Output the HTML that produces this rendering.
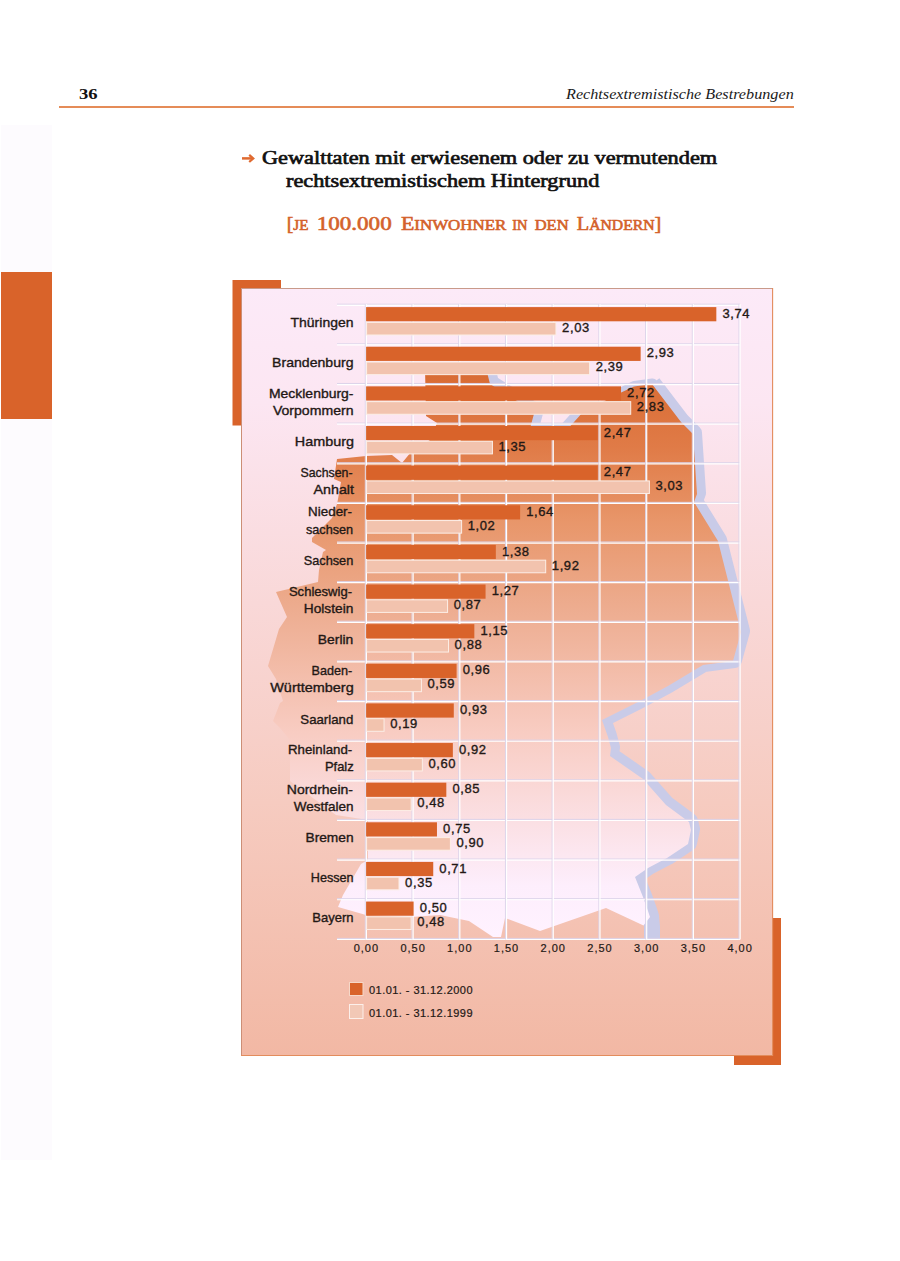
<!DOCTYPE html>
<html><head><meta charset="utf-8"><title>Rechtsextremistische Bestrebungen</title>
<style>
html,body{margin:0;padding:0;background:#fff;}
body{width:900px;height:1261px;position:relative;overflow:hidden;font-family:"Liberation Sans",sans-serif;}
.abs{position:absolute;white-space:nowrap;}
#chart{position:absolute;left:0;top:0;}
#chart text.c{text-anchor:end;}
#chart text.v{letter-spacing:0.6px;}
.strip{position:absolute;left:1px;top:125px;width:51px;height:1035px;background:#FDFBFE;}
.oblock{position:absolute;left:1px;top:272px;width:51px;height:147px;background:#D9632A;}
.pnum{left:79px;top:86px;font:bold 15px "Liberation Serif",serif;color:#111;transform:scaleX(1.24);transform-origin:0 0;}
.rtitle{left:566px;top:85px;font:italic 15.5px "Liberation Serif",serif;color:#1a1a1a;transform:scaleX(1.045);transform-origin:0 0;}
.hline{position:absolute;left:59px;top:106.4px;width:735px;height:1.4px;background:#E58C58;}
.arrow{left:241px;top:147px;font:bold 17px "Liberation Sans",sans-serif;color:#E07030;}
.t1{left:262px;top:148px;font:18px "Liberation Serif",serif;color:#111;-webkit-text-stroke:0.65px #111;transform-origin:0 0;}
.t2{left:286px;top:171px;font:18px "Liberation Serif",serif;color:#111;-webkit-text-stroke:0.65px #111;transform-origin:0 0;}
.sub{left:286.3px;top:213.5px;font:19.5px "Liberation Serif",serif;color:#D4622B;-webkit-text-stroke:0.6px #D4622B;transform-origin:0 0;}
.sc{font-size:15px;}
</style></head>
<body>
<div class="strip"></div>
<div class="oblock"></div>
<div class="abs pnum">36</div>
<div class="abs rtitle">Rechtsextremistische Bestrebungen</div>
<div class="hline"></div>
<svg class="abs" style="left:0;top:0" width="300" height="200"><path d="M242,158.4 H252.5" stroke="#E06A30" stroke-width="2.5" fill="none"/><path d="M249.2,154.8 L253.3,158.4 L249.2,162" stroke="#E06A30" stroke-width="2.2" fill="none" stroke-linejoin="miter"/></svg>
<div class="abs t1" style="transform:scaleX(1.239)">Gewalttaten mit erwiesenem oder zu vermutendem</div>
<div class="abs t2" style="transform:scaleX(1.238)">rechtsextremistischem Hintergrund</div>
<svg id="chart" width="900" height="1261" viewBox="0 0 900 1261">
<defs>
<linearGradient id="bg" gradientUnits="userSpaceOnUse" x1="0" y1="288" x2="0" y2="1056">
 <stop offset="0" stop-color="#FCEAF8"/>
 <stop offset="0.15" stop-color="#FCE6F2"/>
 <stop offset="0.41" stop-color="#F9D8D8"/>
 <stop offset="0.67" stop-color="#F6CBC0"/>
 <stop offset="1" stop-color="#F2B8A4"/>
</linearGradient>
<linearGradient id="mp" gradientUnits="userSpaceOnUse" x1="0" y1="368" x2="0" y2="937">
 <stop offset="0" stop-color="#D86A32"/>
 <stop offset="0.14" stop-color="#E07B47"/>
 <stop offset="0.27" stop-color="#E8966A"/>
 <stop offset="0.42" stop-color="#EDAC8F"/>
 <stop offset="0.64" stop-color="#F8CCC2"/>
 <stop offset="0.91" stop-color="#FDEEFC"/>
 <stop offset="1" stop-color="#FFF2FF"/>
</linearGradient>
</defs>
<rect x="232.5" y="280" width="48.5" height="145.5" fill="#D9632A"/>
<rect x="734" y="918" width="47" height="147" fill="#D9632A"/>
<rect x="241" y="288" width="532" height="768" fill="url(#bg)"/>
<polyline points="487.0,367.0 491.0,383.0 535.5,411.0 530.0,431.0 566.0,431.0 584.0,411.0" fill="none" stroke="#C9CBE8" stroke-width="16" stroke-linejoin="round" stroke-linecap="butt"/>
<polyline points="621.5,393.0 634.5,386.5 652.5,384.0 681.5,422.0" fill="none" stroke="#C9CBE8" stroke-width="11" stroke-linejoin="round" stroke-linecap="butt"/>
<polyline points="653.0,383.0 682.0,421.0 694.0,433.0 698.0,493.0 695.0,501.0 719.0,540.0 739.0,619.0 742.0,631.0 734.0,660.0 704.0,664.0 669.0,685.0 643.0,699.0 603.0,719.0 609.0,736.0 612.0,747.0 611.0,755.0 644.0,778.0 667.0,804.0 690.0,821.0 692.0,829.0 689.0,843.0 668.0,857.0 649.0,867.0 636.0,876.0 644.0,896.0 649.0,910.0 651.0,916.0 652.0,927.0 652.0,939.0" fill="none" stroke="#C9CBE8" stroke-width="16" stroke-linejoin="round" stroke-linecap="butt"/>
<polygon points="425.0,368.0 486.0,368.0 490.0,384.0 534.5,412.0 529.0,432.0 565.0,432.0 583.0,412.0 620.0,393.0 634.0,386.5 652.0,384.0 681.0,422.0 693.0,434.0 697.0,494.0 694.0,502.0 718.0,541.0 738.0,620.0 741.0,632.0 733.0,661.0 703.0,665.0 668.0,686.0 642.0,700.0 602.0,720.0 608.0,737.0 611.0,748.0 610.0,756.0 643.0,779.0 666.0,805.0 689.0,822.0 691.0,830.0 688.0,844.0 667.0,858.0 648.0,868.0 635.0,877.0 643.0,897.0 648.0,911.0 650.0,917.0 643.5,925.6 606.0,908.0 540.0,931.0 505.0,918.0 501.0,937.0 493.0,937.0 469.0,921.0 440.0,915.0 411.0,917.0 366.0,915.0 338.0,907.0 343.0,895.0 361.0,864.0 368.0,860.0 368.0,820.0 336.0,815.0 290.0,781.0 290.0,740.0 280.0,728.0 273.0,721.0 280.0,703.0 283.0,701.0 276.0,679.0 268.0,666.0 279.0,629.0 287.0,617.0 276.0,592.0 318.0,582.0 319.0,570.0 323.0,552.0 326.0,550.0 312.0,542.0 312.0,538.0 332.0,518.0 337.0,504.0 338.0,499.0 341.0,482.0 334.0,479.0 337.0,459.0 366.0,456.0 392.0,455.0 402.0,463.0 411.0,452.0 430.0,440.0 437.0,423.0 426.0,416.0" fill="url(#mp)"/>
<line x1="337.0" y1="304.20" x2="740.0" y2="304.20" stroke="#DCD4EA" stroke-width="1"/>
<line x1="337.0" y1="305.30" x2="740.0" y2="305.30" stroke="#FFFFFF" stroke-width="1.2"/>
<line x1="337.0" y1="343.83" x2="740.0" y2="343.83" stroke="#DCD4EA" stroke-width="1"/>
<line x1="337.0" y1="344.93" x2="740.0" y2="344.93" stroke="#FFFFFF" stroke-width="1.2"/>
<line x1="337.0" y1="383.46" x2="740.0" y2="383.46" stroke="#DCD4EA" stroke-width="1"/>
<line x1="337.0" y1="384.56" x2="740.0" y2="384.56" stroke="#FFFFFF" stroke-width="1.2"/>
<line x1="337.0" y1="423.09" x2="740.0" y2="423.09" stroke="#DCD4EA" stroke-width="1"/>
<line x1="337.0" y1="424.19" x2="740.0" y2="424.19" stroke="#FFFFFF" stroke-width="1.2"/>
<line x1="337.0" y1="462.72" x2="740.0" y2="462.72" stroke="#DCD4EA" stroke-width="1"/>
<line x1="337.0" y1="463.82" x2="740.0" y2="463.82" stroke="#FFFFFF" stroke-width="1.2"/>
<line x1="337.0" y1="502.35" x2="740.0" y2="502.35" stroke="#DCD4EA" stroke-width="1"/>
<line x1="337.0" y1="503.45" x2="740.0" y2="503.45" stroke="#FFFFFF" stroke-width="1.2"/>
<line x1="337.0" y1="541.98" x2="740.0" y2="541.98" stroke="#DCD4EA" stroke-width="1"/>
<line x1="337.0" y1="543.08" x2="740.0" y2="543.08" stroke="#FFFFFF" stroke-width="1.2"/>
<line x1="337.0" y1="581.61" x2="740.0" y2="581.61" stroke="#DCD4EA" stroke-width="1"/>
<line x1="337.0" y1="582.71" x2="740.0" y2="582.71" stroke="#FFFFFF" stroke-width="1.2"/>
<line x1="337.0" y1="621.24" x2="740.0" y2="621.24" stroke="#DCD4EA" stroke-width="1"/>
<line x1="337.0" y1="622.34" x2="740.0" y2="622.34" stroke="#FFFFFF" stroke-width="1.2"/>
<line x1="337.0" y1="660.87" x2="740.0" y2="660.87" stroke="#DCD4EA" stroke-width="1"/>
<line x1="337.0" y1="661.97" x2="740.0" y2="661.97" stroke="#FFFFFF" stroke-width="1.2"/>
<line x1="337.0" y1="700.50" x2="740.0" y2="700.50" stroke="#DCD4EA" stroke-width="1"/>
<line x1="337.0" y1="701.60" x2="740.0" y2="701.60" stroke="#FFFFFF" stroke-width="1.2"/>
<line x1="337.0" y1="740.13" x2="740.0" y2="740.13" stroke="#DCD4EA" stroke-width="1"/>
<line x1="337.0" y1="741.23" x2="740.0" y2="741.23" stroke="#FFFFFF" stroke-width="1.2"/>
<line x1="337.0" y1="779.76" x2="740.0" y2="779.76" stroke="#DCD4EA" stroke-width="1"/>
<line x1="337.0" y1="780.86" x2="740.0" y2="780.86" stroke="#FFFFFF" stroke-width="1.2"/>
<line x1="337.0" y1="819.39" x2="740.0" y2="819.39" stroke="#DCD4EA" stroke-width="1"/>
<line x1="337.0" y1="820.49" x2="740.0" y2="820.49" stroke="#FFFFFF" stroke-width="1.2"/>
<line x1="337.0" y1="859.02" x2="740.0" y2="859.02" stroke="#DCD4EA" stroke-width="1"/>
<line x1="337.0" y1="860.12" x2="740.0" y2="860.12" stroke="#FFFFFF" stroke-width="1.2"/>
<line x1="337.0" y1="898.65" x2="740.0" y2="898.65" stroke="#DCD4EA" stroke-width="1"/>
<line x1="337.0" y1="899.75" x2="740.0" y2="899.75" stroke="#FFFFFF" stroke-width="1.2"/>
<line x1="337.0" y1="938.40" x2="740.0" y2="938.40" stroke="#DCD4EA" stroke-width="1"/>
<line x1="337.0" y1="939.50" x2="740.0" y2="939.50" stroke="#FFFFFF" stroke-width="1.2"/>
<line x1="365.30" y1="304.2" x2="365.30" y2="939.4" stroke="#DCD4EA" stroke-width="1"/>
<line x1="366.40" y1="304.2" x2="366.40" y2="939.4" stroke="#FFFFFF" stroke-width="1.2"/>
<line x1="412.01" y1="304.2" x2="412.01" y2="939.4" stroke="#DCD4EA" stroke-width="1"/>
<line x1="413.12" y1="304.2" x2="413.12" y2="939.4" stroke="#FFFFFF" stroke-width="1.2"/>
<line x1="458.73" y1="304.2" x2="458.73" y2="939.4" stroke="#DCD4EA" stroke-width="1"/>
<line x1="459.83" y1="304.2" x2="459.83" y2="939.4" stroke="#FFFFFF" stroke-width="1.2"/>
<line x1="505.45" y1="304.2" x2="505.45" y2="939.4" stroke="#DCD4EA" stroke-width="1"/>
<line x1="506.55" y1="304.2" x2="506.55" y2="939.4" stroke="#FFFFFF" stroke-width="1.2"/>
<line x1="552.16" y1="304.2" x2="552.16" y2="939.4" stroke="#DCD4EA" stroke-width="1"/>
<line x1="553.26" y1="304.2" x2="553.26" y2="939.4" stroke="#FFFFFF" stroke-width="1.2"/>
<line x1="598.88" y1="304.2" x2="598.88" y2="939.4" stroke="#DCD4EA" stroke-width="1"/>
<line x1="599.98" y1="304.2" x2="599.98" y2="939.4" stroke="#FFFFFF" stroke-width="1.2"/>
<line x1="645.59" y1="304.2" x2="645.59" y2="939.4" stroke="#DCD4EA" stroke-width="1"/>
<line x1="646.69" y1="304.2" x2="646.69" y2="939.4" stroke="#FFFFFF" stroke-width="1.2"/>
<line x1="692.31" y1="304.2" x2="692.31" y2="939.4" stroke="#DCD4EA" stroke-width="1"/>
<line x1="693.41" y1="304.2" x2="693.41" y2="939.4" stroke="#FFFFFF" stroke-width="1.2"/>
<line x1="739.02" y1="304.2" x2="739.02" y2="939.4" stroke="#DCD4EA" stroke-width="1"/>
<line x1="740.12" y1="304.2" x2="740.12" y2="939.4" stroke="#FFFFFF" stroke-width="1.2"/>
<rect x="366.1" y="307.10" width="350.23" height="14.2" fill="#D9632A"/>
<rect x="366.6" y="322.40" width="189.36" height="12.6" fill="#F2C3AE" stroke="#FCEEE6" stroke-width="1"/>
<rect x="366.1" y="346.73" width="274.55" height="14.2" fill="#D9632A"/>
<rect x="366.6" y="362.03" width="223.00" height="12.6" fill="#F2C3AE" stroke="#FCEEE6" stroke-width="1"/>
<rect x="366.1" y="386.36" width="254.93" height="14.2" fill="#D9632A"/>
<rect x="366.6" y="401.66" width="264.11" height="12.6" fill="#F2C3AE" stroke="#FCEEE6" stroke-width="1"/>
<rect x="366.1" y="425.99" width="231.57" height="14.2" fill="#D9632A"/>
<rect x="366.6" y="441.29" width="125.83" height="12.6" fill="#F2C3AE" stroke="#FCEEE6" stroke-width="1"/>
<rect x="366.1" y="465.62" width="231.57" height="14.2" fill="#D9632A"/>
<rect x="366.6" y="480.92" width="282.79" height="12.6" fill="#F2C3AE" stroke="#FCEEE6" stroke-width="1"/>
<rect x="366.1" y="505.25" width="154.03" height="14.2" fill="#D9632A"/>
<rect x="366.6" y="520.55" width="95.00" height="12.6" fill="#F2C3AE" stroke="#FCEEE6" stroke-width="1"/>
<rect x="366.1" y="544.88" width="129.73" height="14.2" fill="#D9632A"/>
<rect x="366.6" y="560.18" width="179.09" height="12.6" fill="#F2C3AE" stroke="#FCEEE6" stroke-width="1"/>
<rect x="366.1" y="584.51" width="119.46" height="14.2" fill="#D9632A"/>
<rect x="366.6" y="599.81" width="80.98" height="12.6" fill="#F2C3AE" stroke="#FCEEE6" stroke-width="1"/>
<rect x="366.1" y="624.14" width="108.24" height="14.2" fill="#D9632A"/>
<rect x="366.6" y="639.44" width="81.92" height="12.6" fill="#F2C3AE" stroke="#FCEEE6" stroke-width="1"/>
<rect x="366.1" y="663.77" width="90.49" height="14.2" fill="#D9632A"/>
<rect x="366.6" y="679.07" width="54.82" height="12.6" fill="#F2C3AE" stroke="#FCEEE6" stroke-width="1"/>
<rect x="366.1" y="703.40" width="87.69" height="14.2" fill="#D9632A"/>
<rect x="366.6" y="718.70" width="17.45" height="12.6" fill="#F2C3AE" stroke="#FCEEE6" stroke-width="1"/>
<rect x="366.1" y="743.03" width="86.76" height="14.2" fill="#D9632A"/>
<rect x="366.6" y="758.33" width="55.76" height="12.6" fill="#F2C3AE" stroke="#FCEEE6" stroke-width="1"/>
<rect x="366.1" y="782.66" width="80.22" height="14.2" fill="#D9632A"/>
<rect x="366.6" y="797.96" width="44.55" height="12.6" fill="#F2C3AE" stroke="#FCEEE6" stroke-width="1"/>
<rect x="366.1" y="822.29" width="70.87" height="14.2" fill="#D9632A"/>
<rect x="366.6" y="837.59" width="83.79" height="12.6" fill="#F2C3AE" stroke="#FCEEE6" stroke-width="1"/>
<rect x="366.1" y="861.92" width="67.14" height="14.2" fill="#D9632A"/>
<rect x="366.6" y="877.22" width="32.40" height="12.6" fill="#F2C3AE" stroke="#FCEEE6" stroke-width="1"/>
<rect x="366.1" y="901.55" width="47.52" height="14.2" fill="#D9632A"/>
<rect x="366.6" y="916.85" width="44.55" height="12.6" fill="#F2C3AE" stroke="#FCEEE6" stroke-width="1"/>
<g font-family="Liberation Sans" font-size="13" fill="#231815" stroke="#231815" stroke-width="0.35">
<text class="v" x="722.4" y="317.80">3,74</text>
<text class="v" x="562.1" y="331.80">2,03</text>
<text class="c" transform="translate(353.50,327.20) scale(1.0763,1)">Thüringen</text>
<text class="v" x="646.7" y="357.43">2,93</text>
<text class="v" x="595.7" y="371.43">2,39</text>
<text class="c" transform="translate(353.50,366.83) scale(1.0840,1)">Brandenburg</text>
<text class="v" x="627.1" y="397.06">2,72</text>
<text class="v" x="636.8" y="411.06">2,83</text>
<text class="c" transform="translate(353.50,397.56) scale(1.0747,1)">Mecklenburg-</text>
<text class="c" transform="translate(353.50,414.66) scale(1.0840,1)">Vorpommern</text>
<text class="v" x="603.8" y="436.69">2,47</text>
<text class="v" x="498.5" y="450.69">1,35</text>
<text class="c" transform="translate(354.00,446.09) scale(1.1075,1)">Hamburg</text>
<text class="v" x="603.8" y="476.32">2,47</text>
<text class="v" x="655.5" y="490.32">3,03</text>
<text class="c" transform="translate(352.50,476.82) scale(0.9491,1)">Sachsen-</text>
<text class="c" transform="translate(354.00,493.92) scale(1.1000,1)">Anhalt</text>
<text class="v" x="526.2" y="515.95">1,64</text>
<text class="v" x="467.7" y="529.95">1,02</text>
<text class="c" transform="translate(352.00,516.45) scale(1.0310,1)">Nieder-</text>
<text class="c" transform="translate(353.10,533.55) scale(0.9755,1)">sachsen</text>
<text class="v" x="501.9" y="555.58">1,38</text>
<text class="v" x="551.8" y="569.58">1,92</text>
<text class="c" transform="translate(353.30,564.98) scale(0.9820,1)">Sachsen</text>
<text class="v" x="491.7" y="595.21">1,27</text>
<text class="v" x="453.7" y="609.21">0,87</text>
<text class="c" transform="translate(352.00,595.71) scale(1.0048,1)">Schleswig-</text>
<text class="c" transform="translate(353.30,612.81) scale(1.0553,1)">Holstein</text>
<text class="v" x="480.4" y="634.84">1,15</text>
<text class="v" x="454.6" y="648.84">0,88</text>
<text class="c" transform="translate(353.30,644.24) scale(1.0667,1)">Berlin</text>
<text class="v" x="462.7" y="674.47">0,96</text>
<text class="v" x="427.5" y="688.47">0,59</text>
<text class="c" transform="translate(352.20,674.97) scale(0.9714,1)">Baden-</text>
<text class="c" transform="translate(353.70,692.07) scale(1.1118,1)">Württemberg</text>
<text class="v" x="459.9" y="714.10">0,93</text>
<text class="v" x="390.2" y="728.10">0,19</text>
<text class="c" transform="translate(353.30,723.50) scale(1.0192,1)">Saarland</text>
<text class="v" x="459.0" y="753.73">0,92</text>
<text class="v" x="428.5" y="767.73">0,60</text>
<text class="c" transform="translate(352.20,754.23) scale(1.0222,1)">Rheinland-</text>
<text class="c" transform="translate(353.70,771.33) scale(0.9966,1)">Pfalz</text>
<text class="v" x="452.4" y="793.36">0,85</text>
<text class="v" x="417.2" y="807.36">0,48</text>
<text class="c" transform="translate(353.00,793.86) scale(1.0787,1)">Nordrhein-</text>
<text class="c" transform="translate(353.60,810.96) scale(1.0414,1)">Westfalen</text>
<text class="v" x="443.1" y="832.99">0,75</text>
<text class="v" x="456.5" y="846.99">0,90</text>
<text class="c" transform="translate(353.60,842.39) scale(1.0578,1)">Bremen</text>
<text class="v" x="439.3" y="872.62">0,71</text>
<text class="v" x="405.1" y="886.62">0,35</text>
<text class="c" transform="translate(353.60,882.02) scale(0.9727,1)">Hessen</text>
<text class="v" x="419.7" y="912.25">0,50</text>
<text class="v" x="417.2" y="926.25">0,48</text>
<text class="c" transform="translate(353.60,921.65) scale(1.0024,1)">Bayern</text>
</g>
<g font-family="Liberation Sans" font-size="11" fill="#231815" stroke="#231815" stroke-width="0.2" letter-spacing="1"><text x="366.40" y="951.6" text-anchor="middle">0,00</text><text x="413.12" y="951.6" text-anchor="middle">0,50</text><text x="459.83" y="951.6" text-anchor="middle">1,00</text><text x="506.55" y="951.6" text-anchor="middle">1,50</text><text x="553.26" y="951.6" text-anchor="middle">2,00</text><text x="599.98" y="951.6" text-anchor="middle">2,50</text><text x="646.69" y="951.6" text-anchor="middle">3,00</text><text x="693.41" y="951.6" text-anchor="middle">3,50</text><text x="740.12" y="951.6" text-anchor="middle">4,00</text></g>
<rect x="349.5" y="982.5" width="13.5" height="13" fill="#D9632A" stroke="#F6D8C8" stroke-width="1"/>
<rect x="349.5" y="1004.5" width="13.5" height="14" fill="#F2C8B6" stroke="#FCEFEA" stroke-width="1"/>
<g font-family="Liberation Sans" font-size="11" fill="#231815" stroke="#231815" stroke-width="0.2" letter-spacing="0.45"><text x="369" y="994">01.01. - 31.12.2000</text><text x="369" y="1016.8">01.01. - 31.12.1999</text></g>
<g font-family="Liberation Serif" font-size="19.5" fill="#D4622B" stroke="#D4622B" stroke-width="0.6"><text x="286.7" y="229.9" textLength="21.7" lengthAdjust="spacingAndGlyphs">[<tspan font-size='15'>JE</tspan></text><text x="316.7" y="229.9" textLength="75.0" lengthAdjust="spacingAndGlyphs">100.000</text><text x="400.9" y="229.9" textLength="105.4" lengthAdjust="spacingAndGlyphs">E<tspan font-size='15'>INWOHNER</tspan></text><text x="512.3" y="229.9" textLength="15.2" lengthAdjust="spacingAndGlyphs"><tspan font-size='15'>IN</tspan></text><text x="534.7" y="229.9" textLength="33.9" lengthAdjust="spacingAndGlyphs"><tspan font-size='15'>DEN</tspan></text><text x="576.7" y="229.9" textLength="84.6" lengthAdjust="spacingAndGlyphs">L<tspan font-size='15'>ÄNDERN</tspan>]</text></g>
<path d="M241.5,1055.5 V288.5" stroke="#CC8E76" stroke-width="1" fill="none"/><path d="M241,288.5 H773" stroke="#C99A8A" stroke-width="1.1" fill="none"/><path d="M772.6,288 V1056" stroke="#E38C5C" stroke-width="1.1" fill="none"/><path d="M241,1055.5 H773" stroke="#E38C5C" stroke-width="1" fill="none"/>
</svg>
</body></html>
